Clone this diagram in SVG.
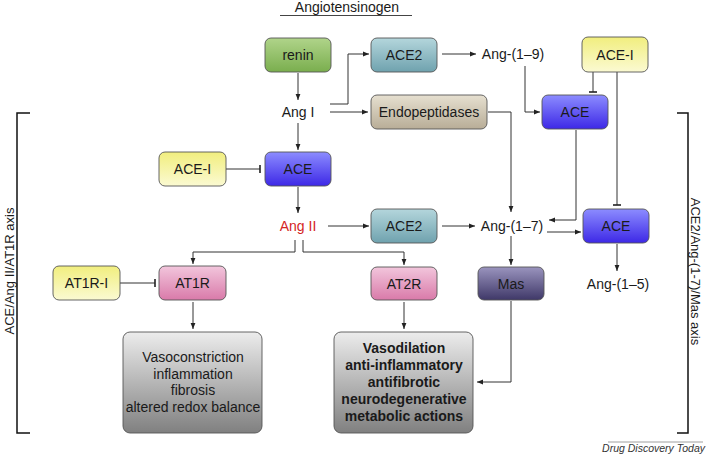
<svg xmlns="http://www.w3.org/2000/svg" width="708" height="457" viewBox="0 0 708 457">
<style>
text{font-family:"Liberation Sans","DejaVu Sans",sans-serif;font-size:14px;fill:#1a1a1a}
.c{text-anchor:middle}
.box{stroke:#555;stroke-width:0.9}
.ln{fill:none;stroke:#333;stroke-width:1}
.inh{fill:none;stroke:#222;stroke-width:1.6}
.br{fill:none;stroke:#111;stroke-width:1.5}
.ax{font-size:13px}
.b{font-weight:bold}
</style>
<defs>
<linearGradient id="gGreen" x1="0" y1="0" x2="0" y2="1"><stop offset="0" stop-color="#b0d48a"/><stop offset="1" stop-color="#7aae4e"/></linearGradient>
<linearGradient id="gTeal" x1="0" y1="0" x2="0" y2="1"><stop offset="0" stop-color="#b4d6dc"/><stop offset="1" stop-color="#6fa2ae"/></linearGradient>
<linearGradient id="gBeige" x1="0" y1="0" x2="0" y2="1"><stop offset="0" stop-color="#e6e0d0"/><stop offset="1" stop-color="#b8ad97"/></linearGradient>
<linearGradient id="gBlue" x1="0" y1="0" x2="0" y2="1"><stop offset="0" stop-color="#8c8cff"/><stop offset="1" stop-color="#3d28e6"/></linearGradient>
<linearGradient id="gYellow" x1="0" y1="0" x2="0" y2="1"><stop offset="0" stop-color="#f1ee7e"/><stop offset="1" stop-color="#fbfad2"/></linearGradient>
<linearGradient id="gPink" x1="0" y1="0" x2="0" y2="1"><stop offset="0" stop-color="#f2c6dc"/><stop offset="1" stop-color="#d97aa9"/></linearGradient>
<linearGradient id="gPurple" x1="0" y1="0" x2="0" y2="1"><stop offset="0" stop-color="#9a94be"/><stop offset="1" stop-color="#3f3868"/></linearGradient>
<linearGradient id="gGray" x1="0" y1="0" x2="0" y2="1"><stop offset="0" stop-color="#ececec"/><stop offset="1" stop-color="#808080"/></linearGradient>
<marker id="arr" markerWidth="7" markerHeight="6" refX="6" refY="3" orient="auto" markerUnits="userSpaceOnUse"><path d="M0,0.6 L6,3 L0,5.4 Z" fill="#222"/></marker>
</defs>

<g id="title">
<text class="c" x="347" y="11.5">Angiotensinogen</text>
<line x1="280" y1="15.5" x2="412" y2="15.5" stroke="#444" stroke-width="1"/>
</g>

<g id="connectors">
<path class="ln" d="M298,73 V100" marker-end="url(#arr)"/>
<path class="ln" d="M330,104 H348 V54 H369" marker-end="url(#arr)"/>
<path class="ln" d="M330,112 H368" marker-end="url(#arr)"/>
<path class="ln" d="M442,54 H476" marker-end="url(#arr)"/>
<path class="ln" d="M525,66 V112 H540" marker-end="url(#arr)"/>
<path class="ln" d="M593,72 V92"/>
<path class="inh" d="M589,92 H597"/>
<path class="ln" d="M617,72 V205"/>
<path class="inh" d="M613,205 H621"/>
<path class="ln" d="M488,112 H511 V212" marker-end="url(#arr)"/>
<path class="ln" d="M576,130 V220 H549" marker-end="url(#arr)"/>
<path class="ln" d="M547,232 H581" marker-end="url(#arr)"/>
<path class="ln" d="M442,226 H475" marker-end="url(#arr)"/>
<path class="ln" d="M328,226 H369" marker-end="url(#arr)"/>
<path class="ln" d="M298,123 V150" marker-end="url(#arr)"/>
<path class="ln" d="M298,187 V213" marker-end="url(#arr)"/>
<path class="ln" d="M226,169 H260"/>
<path class="inh" d="M260,165 V173"/>
<path class="ln" d="M295,240 V252 H193 V264" marker-end="url(#arr)"/>
<path class="ln" d="M303,240 V252 H404 V265" marker-end="url(#arr)"/>
<path class="ln" d="M120,283 H155"/>
<path class="inh" d="M155,279 V287"/>
<path class="ln" d="M193,302 V329" marker-end="url(#arr)"/>
<path class="ln" d="M404,302 V329" marker-end="url(#arr)"/>
<path class="ln" d="M511,236 V265" marker-end="url(#arr)"/>
<path class="ln" d="M617,244 V271" marker-end="url(#arr)"/>
<path class="ln" d="M511,301 V382 H477" marker-end="url(#arr)"/>
</g>

<g id="renin"><rect class="box" x="265" y="38" width="66" height="34" rx="6" fill="url(#gGreen)"/><text class="c" x="298" y="60">renin</text></g>
<g id="ace2-top"><rect class="box" x="371" y="38" width="66" height="34" rx="6" fill="url(#gTeal)"/><text class="c" x="404" y="60">ACE2</text></g>
<g id="acei-top"><rect class="box" x="582" y="37" width="66" height="35" rx="6" fill="url(#gYellow)"/><text class="c" x="615" y="59.5">ACE-I</text></g>
<g id="endopeptidases"><rect class="box" x="371" y="95" width="116" height="34" rx="6" fill="url(#gBeige)"/><text class="c" x="429" y="117">Endopeptidases</text></g>
<g id="ace-upper"><rect class="box" x="542" y="95" width="66" height="34" rx="6" fill="url(#gBlue)"/><text class="c" x="575" y="117">ACE</text></g>
<g id="acei-left"><rect class="box" x="159" y="152" width="67" height="34" rx="6" fill="url(#gYellow)"/><text class="c" x="192.5" y="174">ACE-I</text></g>
<g id="ace-mid"><rect class="box" x="265" y="152" width="66" height="34" rx="6" fill="url(#gBlue)"/><text class="c" x="298" y="174">ACE</text></g>
<g id="ace2-mid"><rect class="box" x="371" y="209" width="66" height="34" rx="6" fill="url(#gTeal)"/><text class="c" x="404" y="231">ACE2</text></g>
<g id="ace-lower"><rect class="box" x="583" y="209" width="66" height="34" rx="6" fill="url(#gBlue)"/><text class="c" x="616" y="231">ACE</text></g>
<g id="at1r-i"><rect class="box" x="53" y="266" width="67" height="34" rx="6" fill="url(#gYellow)"/><text class="c" x="86.5" y="288">AT1R-I</text></g>
<g id="at1r"><rect class="box" x="159" y="266" width="67" height="34" rx="6" fill="url(#gPink)"/><text class="c" x="192.5" y="288">AT1R</text></g>
<g id="at2r"><rect class="box" x="371" y="267" width="66" height="33" rx="6" fill="url(#gPink)"/><text class="c" x="404" y="288.5">AT2R</text></g>
<g id="mas"><rect class="box" x="478" y="267" width="66" height="33" rx="6" fill="url(#gPurple)"/><text class="c" x="511" y="288.5">Mas</text></g>

<g id="ang-i"><text class="c" x="298" y="117">Ang I</text></g>
<g id="ang-1-9"><text class="c" x="513" y="59">Ang-(1–9)</text></g>
<g id="ang-ii"><text class="c" x="298" y="231" style="fill:#d42525">Ang II</text></g>
<g id="ang-1-7"><text class="c" x="512" y="231">Ang-(1–7)</text></g>
<g id="ang-1-5"><text class="c" x="618" y="289">Ang-(1–5)</text></g>

<g id="outcome-left"><rect class="box" x="123" y="332" width="139" height="101" rx="7" fill="url(#gGray)"/>
<text class="c" x="193" y="362">Vasoconstriction</text>
<text class="c" x="193" y="378.5">inflammation</text>
<text class="c" x="193" y="395">fibrosis</text>
<text class="c" x="193" y="411.5">altered redox balance</text></g>
<g id="outcome-right"><rect class="box" x="334" y="332" width="139" height="101" rx="7" fill="url(#gGray)"/>
<text class="c b" x="404" y="353">Vasodilation</text>
<text class="c b" x="404" y="370">anti-inflammatory</text>
<text class="c b" x="404" y="387">antifibrotic</text>
<text class="c b" x="404" y="404">neurodegenerative</text>
<text class="c b" x="404" y="421">metabolic actions</text></g>

<g id="axis-left">
<path class="br" d="M30,113 H17 V433 H30"/>
<text class="c ax" transform="translate(14,271) rotate(-90)">ACE/Ang II/AT1R axis</text>
</g>
<g id="axis-right">
<path class="br" d="M677,113 H688 V433 H677"/>
<text class="c ax" transform="translate(691,271.5) rotate(90)">ACE2/Ang-(1-7)/Mas axis</text>
</g>

<g id="source">
<line x1="608" y1="442" x2="703" y2="442" stroke="#888" stroke-width="0.8"/>
<text x="705" y="452" style="font-size:10.5px;font-style:italic;text-anchor:end;fill:#333">Drug Discovery Today</text>
</g>
</svg>
